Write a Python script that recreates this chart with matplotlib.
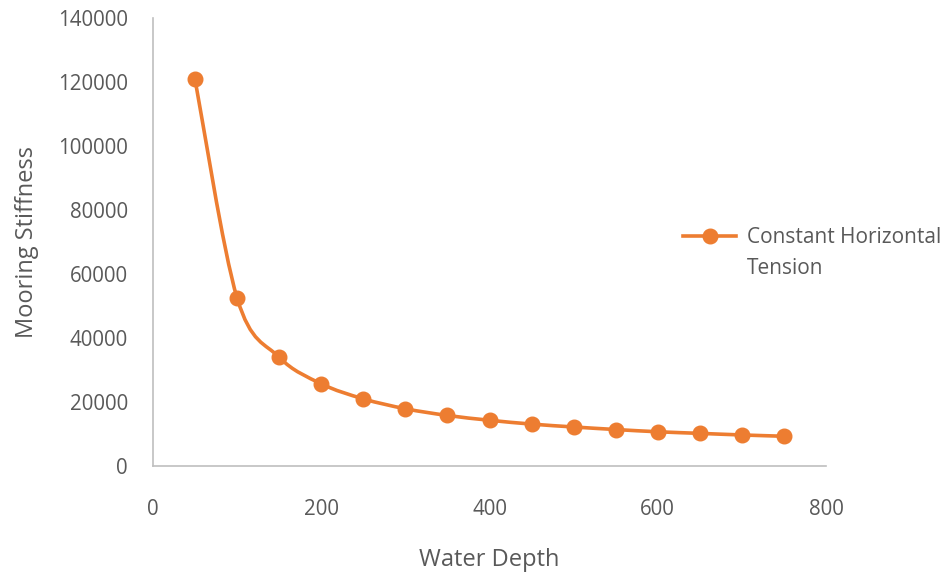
import numpy as np
import matplotlib.pyplot as plt
from matplotlib.path import Path
from matplotlib.patches import PathPatch
from matplotlib.lines import Line2D

# data
water_depth = [50, 100, 150, 200, 250, 300, 350, 400, 450, 500, 550, 600, 650, 700, 750]
stiffness = [120800, 52500, 34000, 25700, 21000, 17900, 15800, 14300, 13100,
             12200, 11400, 10700, 10200, 9700, 9300]
series_name = ["Constant Horizontal", "Tension"]

orange = "#ED7D31"
gray_text = "#595959"
plt.rcParams["font.family"] = ["Open Sans", "DejaVu Sans"]

fig = plt.figure(figsize=(9.43, 5.72), dpi=100)
ax = fig.add_axes([0.1622, 0.1853, 0.876 - 0.1622, 0.9685 - 0.1853])

# smoothed line like Excel: cubic bezier through the points
pts = np.column_stack([water_depth, stiffness]).astype(float)
n = len(pts)
verts = [pts[0]]
codes = [Path.MOVETO]
for i in range(n - 1):
    p0 = pts[i - 1] if i > 0 else pts[i]
    p1 = pts[i]
    p2 = pts[i + 1]
    p3 = pts[i + 2] if i + 2 < n else pts[i + 1]
    c1 = p1 + (p2 - p0) / 6.0
    c2 = p2 - (p3 - p1) / 6.0
    verts += [c1, c2, p2]
    codes += [Path.CURVE4] * 3
ax.add_patch(PathPatch(Path(verts, codes), facecolor="none", edgecolor=orange, lw=2.6,
                       capstyle="round", joinstyle="round", zorder=2))
ax.plot(water_depth, stiffness, "o", color=orange, markersize=10.5, zorder=3)

ax.set_xlim(0, 800)
ax.set_ylim(0, 140000)
ax.set_xticks(range(0, 801, 200))
ax.set_yticks(range(0, 140001, 20000))
ax.tick_params(length=0, labelsize=14.8, colors=gray_text)
ax.tick_params(axis="y", pad=18)
ax.tick_params(axis="x", pad=24)
for s in ["top", "right"]:
    ax.spines[s].set_visible(False)
for s in ["left", "bottom"]:
    ax.spines[s].set_color("#BFBFBF")
    ax.spines[s].set_linewidth(1.2)

ax.set_xlabel("Water Depth", fontsize=17, color=gray_text, labelpad=20)
ax.set_ylabel("Mooring Stiffness", fontsize=17, color=gray_text, labelpad=14)

# legend: marker sits on the first line of the wrapped label
handle = Line2D([], [], color=orange, lw=2.6, marker="o", markersize=10.5)
fig.legend([handle], [series_name[0]], loc="center left", bbox_to_anchor=(0.7243, 0.584),
           frameon=False, fontsize=15, labelcolor=gray_text, handlelength=2.55,
           handletextpad=0.53, borderpad=0, borderaxespad=0)
fig.text(747 / 943, 1 - 268 / 572, series_name[1], fontsize=15, color=gray_text,
         ha="left", va="center")

fig.savefig("out.png", dpi=100)
